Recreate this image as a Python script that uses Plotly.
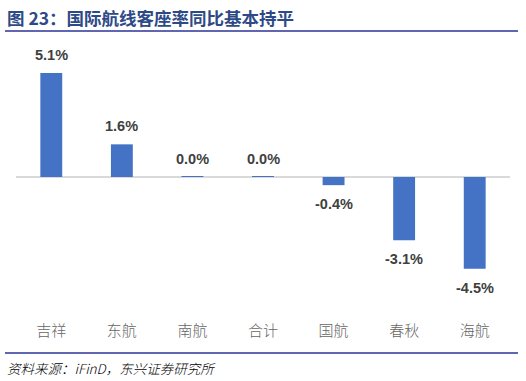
import plotly.graph_objects as go

categories = ["吉祥", "东航", "南航", "合计", "国航", "春秋", "海航"]
values = [5.1, 1.6, 0.02, 0.01, -0.4, -3.1, -4.5]
labels = ["5.1%", "1.6%", "0.0%", "0.0%", "-0.4%", "-3.1%", "-4.5%"]

W, H = 526, 381
L, R, T, B = 16, 16, 45, 61
pw, ph = W - L - R, H - T - B


def px(x):
    return (x - L) / pw


def py(y):
    return (H - B - y) / ph


fig = go.Figure()
fig.add_trace(go.Bar(
    x=categories, y=values, width=0.31,
    marker=dict(color="#4472C4", line=dict(width=0)),
    hoverinfo="skip",
))

for c, v, t in zip(categories, values, labels):
    fig.add_annotation(
        x=c, y=v, text="<b>" + t + "</b>", showarrow=False,
        yshift=18 if v >= 0 else -19, yanchor="middle",
        font=dict(family="Liberation Sans, Arial, sans-serif", size=14.5, color="#404040"),
    )

font_cjk = "Noto Sans CJK SC, sans-serif"

fig.add_annotation(
    xref="paper", yref="paper", x=px(5), y=py(17), xanchor="left", yanchor="middle",
    text="<b>图 23：国际航线客座率同比基本持平</b>", showarrow=False,
    font=dict(family=font_cjk, size=17.5, color="#2E4A86"),
)
fig.add_annotation(
    xref="paper", yref="paper", x=px(5), y=py(368), xanchor="left", yanchor="middle",
    text="<i>资料来源：iFinD，东兴证券研究所</i>", showarrow=False,
    font=dict(family=font_cjk, size=13.5, color="#000000", weight=300),
)

for yy in (31, 353):
    fig.add_shape(
        type="line", xref="paper", yref="paper",
        x0=px(5), x1=px(518), y0=py(yy), y1=py(yy),
        line=dict(color="#2B3399", width=1.5),
    )

fig.update_layout(
    width=W, height=H,
    margin=dict(l=L, r=R, t=T, b=B),
    paper_bgcolor="white", plot_bgcolor="white",
    showlegend=False,
    bargap=0.69,
    xaxis=dict(
        showgrid=False, showline=False, ticks="",
        tickfont=dict(family=font_cjk, size=15, color="#666666", weight=300),
        fixedrange=True,
    ),
    yaxis=dict(
        range=[-7.01, 6.47], showgrid=False, showticklabels=False,
        zeroline=True, zerolinecolor="#D9D9D9", zerolinewidth=1.5,
        showline=False, ticks="", fixedrange=True,
    ),
)

fig.write_html("out.html")
